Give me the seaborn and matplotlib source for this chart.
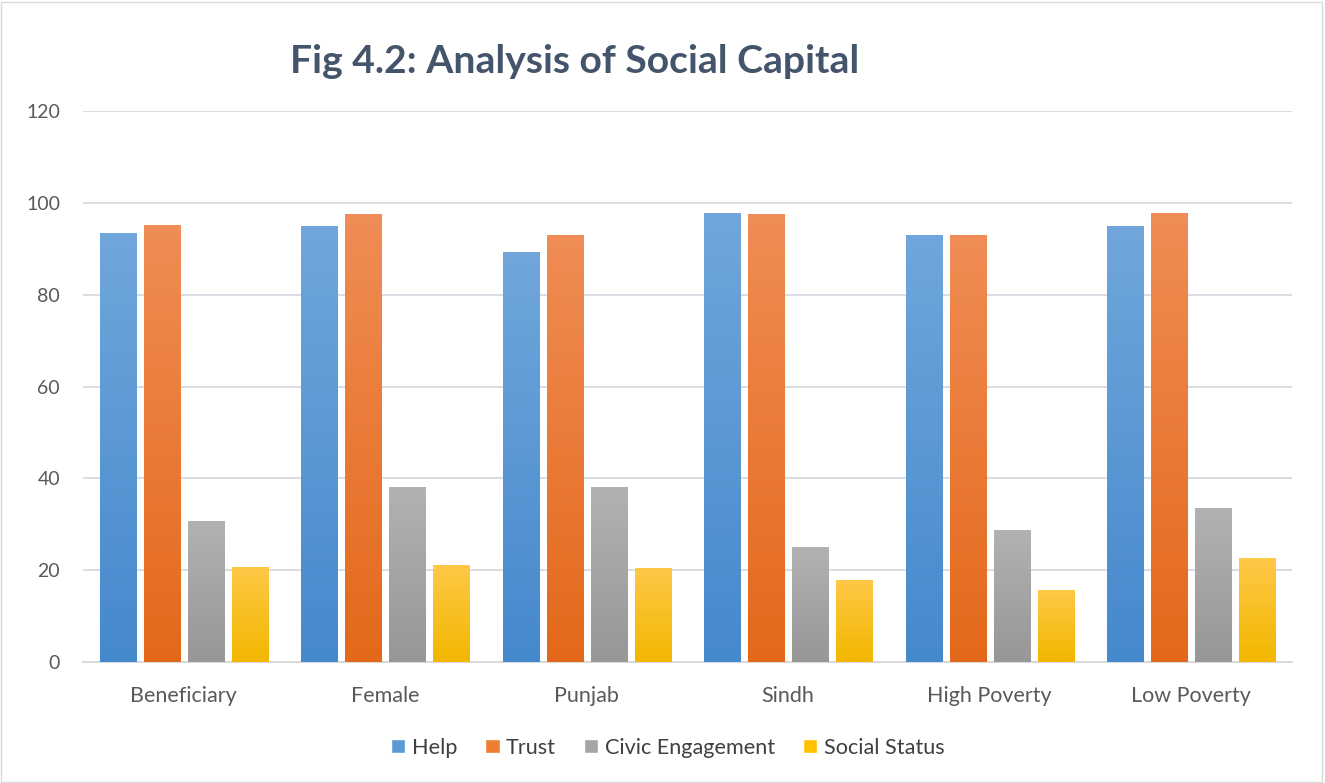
import numpy as np
import pandas as pd
import matplotlib
matplotlib.use("Agg")
import matplotlib.pyplot as plt
import seaborn as sns
from matplotlib.patches import Patch
from matplotlib.colors import LinearSegmentedColormap

categories = ["Beneficiary", "Female", "Punjab", "Sindh", "High Poverty", "Low Poverty"]
series = ["Help", "Trust", "Civic Engagement", "Social Status"]
help_vals = [93.5, 94.9, 89.3, 97.9, 93.1, 94.9]
trust_vals = [95.1, 97.5, 93.1, 97.5, 93.1, 97.9]
civic_vals = [30.8, 38.2, 38.2, 25.1, 28.8, 33.6]
status_vals = [20.7, 21.1, 20.4, 17.9, 15.7, 22.6]
y_ticks = [0, 20, 40, 60, 80, 100, 120]

legend_colors = ["#5B9BD5", "#ED7D31", "#A5A5A5", "#FFC000"]
grad = {
    "Help": ("#70A6DC", "#4589CD"),
    "Trust": ("#F08C55", "#E3691A"),
    "Civic Engagement": ("#B2B2B2", "#979797"),
    "Social Status": ("#FFC847", "#F2B700"),
}

df = pd.DataFrame({
    "Category": np.repeat(categories, len(series)),
    "Series": series * len(categories),
    "Value": [v for quad in zip(help_vals, trust_vals, civic_vals, status_vals) for v in quad],
})

sns.set_theme(style="white")
plt.rcParams["font.family"] = ["Lato", "DejaVu Sans"]

fig = plt.figure(figsize=(13.25, 7.83), dpi=100)
ax = fig.add_axes([0.0626, 0.1546, 0.9124, 0.7034])

sns.barplot(data=df, x="Category", y="Value", hue="Series", order=categories,
            hue_order=series, palette=legend_colors, width=0.873, gap=0.18,
            legend=False, ax=ax, zorder=3, linewidth=0)

ax.set_ylim(0, 120)
ax.set_xlim(-0.5, len(categories) - 0.5)
ax.set_yticks(y_ticks)
ax.yaxis.grid(True, color="#D9DDE3", linewidth=1.4, zorder=0)
ax.set_axisbelow(True)

# gradient fill for each bar, clipped to the seaborn patch
n_cat = len(categories)
for i, patch in enumerate(ax.patches):
    s = series[i // n_cat]
    top, bot = grad[s]
    cmap = LinearSegmentedColormap.from_list(s, [bot, top])
    x0, y0 = patch.get_x(), patch.get_y()
    w, h = patch.get_width(), patch.get_height()
    patch.set_facecolor("none")
    img = ax.imshow(np.linspace(0, 1, 64).reshape(-1, 1), cmap=cmap, aspect="auto",
                    extent=[x0, x0 + w, y0, y0 + h], origin="lower", zorder=3)
    img.set_clip_path(patch)
ax.set_xlim(-0.5, len(categories) - 0.5)
ax.set_ylim(0, 120)

for sp in ["left", "top", "right"]:
    ax.spines[sp].set_visible(False)
ax.spines["bottom"].set_color("#D9D9D9")
ax.spines["bottom"].set_linewidth(1.4)
ax.set_xlabel("")
ax.set_ylabel("")
ax.tick_params(axis="both", length=0, labelcolor="#595959")
ax.tick_params(axis="y", pad=16.5, labelsize=14)
ax.tick_params(axis="x", pad=17, labelsize=15.5)

fig.text(0.434, 0.922, "Fig 4.2: Analysis of Social Capital", ha="center", va="center",
         fontsize=28.2, fontweight="bold", color="#44546A")

handles = [Patch(facecolor=c, label=s) for c, s in zip(legend_colors, series)]
fig.legend(handles=handles, loc="center", bbox_to_anchor=(0.504, 0.045), ncol=4,
           frameon=False, fontsize=15.6, handlelength=0.65, handleheight=0.65,
           handletextpad=0.3, columnspacing=1.3, labelcolor="#404040")

fig.patches.append(plt.Rectangle((0.001, 0.001), 0.997, 0.997, transform=fig.transFigure,
                                 fill=False, edgecolor="#D9D9D9", linewidth=1))

fig.savefig("out.png", dpi=100, facecolor="white")
